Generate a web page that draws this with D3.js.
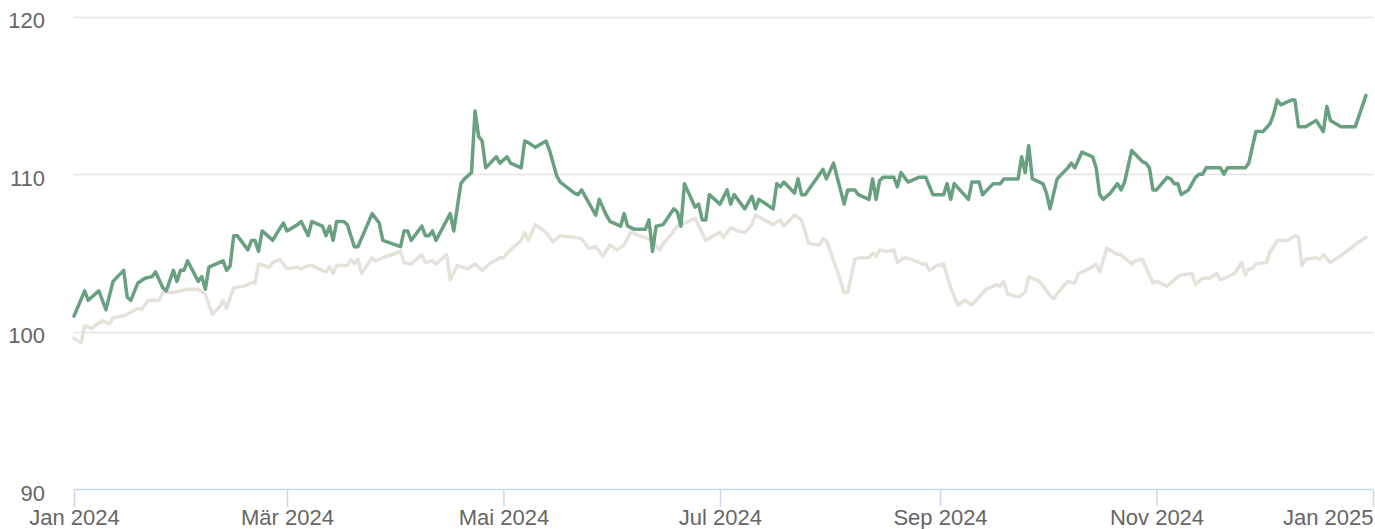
<!DOCTYPE html>
<html>
<head>
<meta charset="utf-8">
<script src="https://cdn.jsdelivr.net/npm/d3@7"></script>
<style>
  body { margin: 0; background: #fff; }
  text { font-family: "Liberation Sans", Arial, sans-serif; }
</style>
</head>
<body>
<div id="chart"></div>
<script>
// days are counted from 1 Jan 2024
var fundDays = [0, 3, 4, 7, 9, 11, 14, 15, 16, 18, 20, 22, 23, 25, 26, 28, 29, 30, 31, 32,
  35, 36, 37, 38, 42, 43, 44, 45, 46, 49, 50, 51, 52, 53, 56, 57, 59, 60, 63, 64,
  66, 67, 69, 70, 71, 72, 73, 74, 76, 77, 79, 80, 84, 86, 87, 92, 93, 94, 95, 98,
  99, 100, 101, 102, 106, 107, 109, 110, 112, 113, 114, 115, 116, 119, 120, 122, 123, 126, 127, 128,
  130, 133, 134, 136, 137, 141, 142, 143, 147, 148, 150, 151, 154, 155, 156, 158, 161, 162, 163, 164,
  166, 169, 170, 171, 172, 175, 176, 177, 178, 179, 182, 184, 185, 186, 189, 191, 192, 193, 197, 198,
  199, 200, 203, 204, 205, 206, 211, 212, 214, 217, 218, 220, 221, 224, 225, 226, 227, 228, 231, 232,
  233, 235, 238, 240, 242, 245, 246, 247, 248, 252, 253, 255, 256, 259, 261, 262, 266, 267, 268, 269,
  270, 273, 274, 275, 277, 280, 281, 282, 284, 287, 288, 289, 290, 292, 294, 295, 296, 298, 301, 302,
  303, 304, 305, 308, 309, 310, 311, 312, 314, 316, 317, 318, 319, 323, 324, 325, 330, 331, 333, 335,
  337, 338, 339, 340, 343, 344, 345, 347, 350, 352, 353, 354, 357, 361, 364];
var fundValues = [101.0, 102.6, 102.0, 102.6, 101.4, 103.2, 103.9, 102.2, 102.0, 103.1, 103.4, 103.5, 103.8, 102.8, 102.6, 103.9, 103.2, 103.9, 103.9, 104.5,
  103.2, 103.5, 102.7, 104.1, 104.5, 103.9, 104.2, 106.1, 106.1, 105.2, 105.8, 105.8, 105.1, 106.4, 105.8, 106.2, 106.9, 106.4, 106.8, 107.0,
  106.1, 107.0, 106.8, 106.7, 106.1, 106.7, 105.8, 107.0, 107.0, 106.8, 105.4, 105.4, 107.5, 106.9, 105.8, 105.4, 106.4, 106.4, 105.8, 106.7,
  106.1, 106.1, 106.4, 105.8, 107.5, 106.4, 109.4, 109.7, 110.1, 114.0, 112.4, 112.1, 110.4, 111.1, 110.7, 111.1, 110.7, 110.4, 112.1, 112.0,
  111.7, 112.1, 111.5, 109.9, 109.5, 108.8, 108.7, 109.0, 107.4, 108.4, 107.4, 107.0, 106.7, 107.5, 106.7, 106.5, 106.5, 107.1, 105.1, 106.7,
  106.8, 107.8, 107.6, 106.7, 109.4, 107.9, 108.1, 107.1, 107.1, 108.7, 108.1, 109.0, 108.1, 108.7, 107.8, 108.6, 107.8, 108.4, 107.8, 109.4,
  109.2, 109.5, 108.8, 109.7, 108.7, 108.7, 110.3, 109.7, 110.7, 108.1, 109.0, 109.0, 108.7, 108.4, 109.7, 108.4, 109.6, 109.8, 109.8, 109.2,
  110.1, 109.5, 109.8, 109.8, 108.7, 108.7, 109.4, 108.4, 109.4, 108.4, 109.5, 109.5, 108.7, 109.4, 109.4, 109.7, 109.7, 111.1, 110.1, 111.8,
  109.7, 109.4, 108.8, 107.8, 109.7, 110.4, 110.7, 110.4, 111.4, 111.1, 110.4, 108.7, 108.4, 108.8, 109.4, 109.0, 109.5, 111.5, 110.8, 110.7,
  110.4, 109.0, 109.0, 109.8, 109.7, 109.4, 109.4, 108.7, 109.0, 109.8, 110.0, 110.0, 110.4, 110.4, 110.0, 110.4, 110.4, 110.7, 112.7, 112.7,
  113.2, 113.8, 114.7, 114.4, 114.7, 114.7, 113.0, 113.0, 113.4, 112.7, 114.3, 113.4, 113.0, 113.0, 115.0];

var benchDays = [0, 2, 3, 5, 6, 8, 10, 11, 14, 18, 19, 21, 24, 25, 28, 30, 32, 35, 37, 39,
  41, 42, 43, 45, 48, 50, 51, 52, 55, 56, 58, 60, 63, 64, 66, 67, 71, 72, 73, 74,
  76, 77, 78, 79, 80, 81, 84, 85, 87, 92, 93, 95, 98, 99, 101, 102, 105, 106, 108, 111,
  113, 115, 117, 120, 121, 123, 126, 127, 128, 130, 133, 135, 137, 141, 143, 145, 147, 149, 151, 153,
  155, 157, 158, 162, 165, 166, 168, 170, 172, 175, 178, 181, 182, 183, 185, 187, 189, 191, 192, 197,
  199, 200, 203, 205, 207, 210, 211, 212, 215, 217, 218, 220, 221, 224, 225, 226, 227, 229, 231, 232,
  234, 236, 238, 239, 240, 241, 243, 245, 247, 249, 251, 253, 257, 260, 261, 262, 263, 266, 268, 269,
  272, 275, 276, 278, 280, 282, 283, 286, 288, 289, 291, 294, 295, 298, 299, 301, 304, 305, 308, 311,
  312, 315, 316, 318, 320, 322, 323, 327, 329, 330, 331, 332, 333, 336, 337, 338, 339, 342, 344, 345,
  346, 347, 350, 351, 352, 354, 358, 362, 364];
var benchValues = [99.6, 99.3, 100.4, 100.2, 100.4, 100.7, 100.5, 100.9, 101.0, 101.5, 101.4, 102.0, 102.0, 102.5, 102.5, 102.6, 102.7, 102.7, 102.4, 101.1,
  101.6, 102.0, 101.5, 102.8, 102.9, 103.1, 103.1, 104.3, 104.1, 104.4, 104.6, 104.0, 104.1, 104.0, 104.2, 104.2, 103.8, 104.1, 103.7, 104.2,
  104.2, 104.2, 104.6, 104.3, 104.6, 103.7, 104.7, 104.5, 104.7, 105.1, 104.4, 104.3, 104.9, 104.4, 104.5, 104.3, 104.9, 103.3, 104.2, 104.0,
  104.3, 103.9, 104.3, 104.7, 104.7, 105.2, 105.8, 106.3, 105.8, 106.8, 106.3, 105.7, 106.1, 106.0, 105.9, 105.3, 105.4, 104.8, 105.5, 105.2,
  105.5, 106.4, 106.2, 105.9, 105.2, 105.6, 106.1, 106.7, 106.9, 107.2, 105.8, 106.2, 106.3, 106.0, 106.6, 106.4, 106.3, 106.8, 107.4, 106.8,
  107.1, 106.7, 107.4, 107.1, 105.6, 105.5, 105.9, 105.8, 103.9, 102.5, 102.5, 104.6, 104.7, 104.7, 105.0, 104.8, 105.2, 105.1, 105.2, 104.4,
  104.7, 104.6, 104.4, 104.3, 104.3, 103.9, 104.2, 104.3, 102.8, 101.7, 102.0, 101.7, 102.7, 103.0, 102.9, 103.2, 102.4, 102.2, 102.5, 103.5,
  103.2, 102.3, 102.1, 102.7, 103.2, 103.1, 103.7, 104.0, 104.3, 103.8, 105.3, 104.9, 104.9, 104.3, 104.5, 104.6, 103.1, 103.2, 102.9, 103.5,
  103.6, 103.7, 103.0, 103.4, 103.4, 103.7, 103.3, 103.7, 104.4, 103.6, 104.0, 104.0, 104.3, 104.4, 105.1, 105.4, 105.8, 105.8, 106.1, 106.0,
  104.2, 104.6, 104.7, 104.6, 104.9, 104.4, 105.0, 105.7, 106.0];

var yTicks = [90, 100, 110, 120];
var monthNames = ['Jan', 'Feb', 'Mär', 'Apr', 'Mai', 'Jun', 'Jul', 'Aug', 'Sep', 'Okt', 'Nov', 'Dez'];

(function() {
  var width = 1375;
  var height = 529;
  var plotLeft = 74, plotRight = 1373, plotTop = 16.5, plotBottom = 489.5;
  var start = new Date(2024, 0, 1);

  var toPoints = function(days, values) {
    return days.map(function(d, i) {
      return { date: d3.timeDay.offset(start, d), value: values[i] };
    });
  };

  var x = d3.scaleTime()
    .domain([start, new Date(2025, 0, 1)])
    .range([plotLeft, plotRight]);

  var y = d3.scaleLinear()
    .domain([90, 120])
    .range([plotBottom, plotTop]);

  var svg = d3.select('#chart').append('svg')
    .attr('width', width)
    .attr('height', height);

  // grid
  svg.append('g')
    .selectAll('line')
    .data(yTicks.slice(1))
    .enter()
    .append('line')
    .attr('x1', plotLeft)
    .attr('x2', plotRight)
    .attr('y1', function(d) { return Math.round(y(d)) + 0.5; })
    .attr('y2', function(d) { return Math.round(y(d)) + 0.5; })
    .attr('stroke', '#e3e3e3')
    .attr('stroke-width', 1.5);

  svg.append('g')
    .selectAll('text')
    .data(yTicks)
    .enter()
    .append('text')
    .attr('x', 45)
    .attr('y', function(d) { return y(d) + 11.5; })
    .attr('text-anchor', 'end')
    .attr('fill', '#666666')
    .style('font-size', '22px')
    .text(function(d) { return d; });

  // x axis
  var xAxis = d3.axisBottom(x)
    .ticks(d3.timeMonth.every(2))
    .tickSize(17)
    .tickPadding(3)
    .tickFormat(function(d) { return monthNames[d.getMonth()] + ' ' + d.getFullYear(); });

  var gx = svg.append('g')
    .attr('transform', 'translate(0,' + plotBottom + ')')
    .call(xAxis);

  gx.select('.domain')
    .attr('stroke', '#ccd6eb')
    .attr('stroke-width', 1.5)
    .attr('d', 'M' + plotLeft + ',0H' + plotRight);
  gx.selectAll('.tick line').attr('stroke', '#ccd6eb').attr('stroke-width', 1.5);
  gx.selectAll('.tick text')
    .attr('fill', '#666666')
    .style('font-size', '22px')
    .style('font-family', '"Liberation Sans", Arial, sans-serif')
    .attr('text-anchor', function(d) { return x(d) > plotRight - 50 ? 'end' : 'middle'; });

  // lines
  var line = d3.line()
    .x(function(d) { return x(d.date); })
    .y(function(d) { return y(d.value); });

  svg.append('path')
    .datum(toPoints(benchDays, benchValues))
    .attr('d', line)
    .attr('fill', 'none')
    .attr('stroke', '#e7e2d9')
    .attr('stroke-width', 3.5)
    .attr('stroke-linejoin', 'round')
    .attr('stroke-linecap', 'round');

  svg.append('path')
    .datum(toPoints(fundDays, fundValues))
    .attr('d', line)
    .attr('fill', 'none')
    .attr('stroke', '#68a080')
    .attr('stroke-width', 3.5)
    .attr('stroke-linejoin', 'round')
    .attr('stroke-linecap', 'round');
})();
</script>
</body>
</html>
